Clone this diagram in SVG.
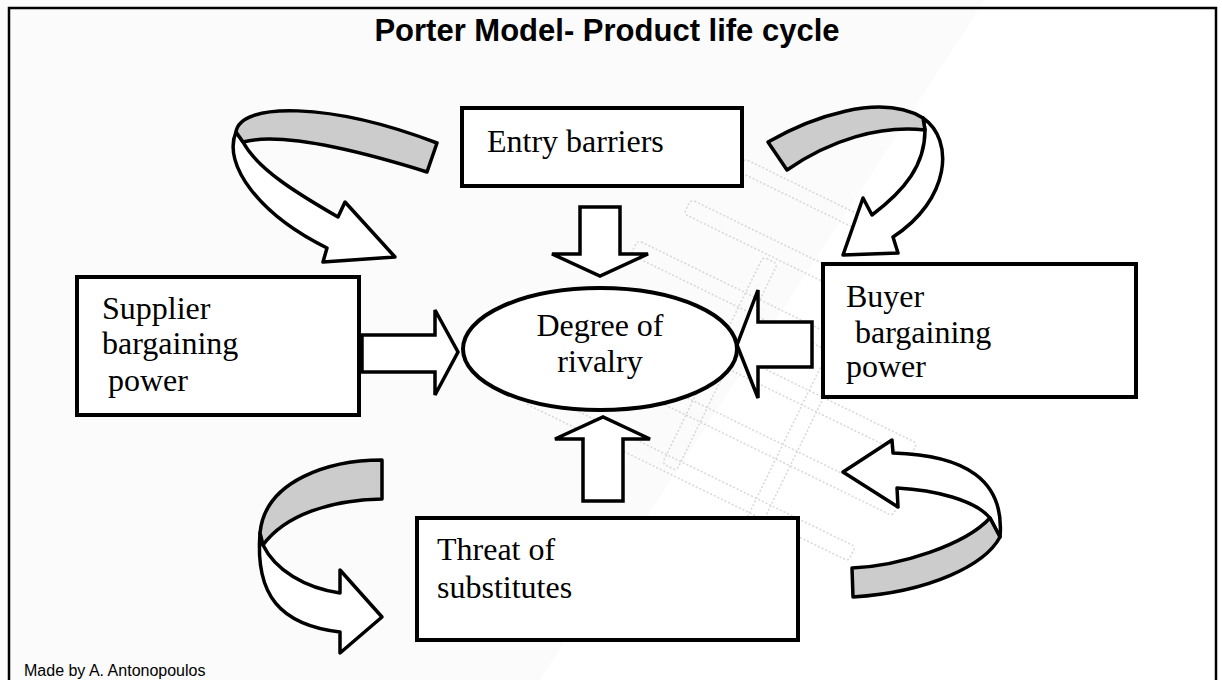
<svg xmlns="http://www.w3.org/2000/svg" width="1222" height="680" viewBox="0 0 1222 680">
<style>
.box{fill:#fff;stroke:#000;stroke-width:4}
.arr{fill:#fff;stroke:#000;stroke-width:3.5;stroke-linejoin:miter}
.band{fill:#cccccc;stroke:#000;stroke-width:3.5;stroke-linejoin:round}
.cw{fill:#fff;stroke:#000;stroke-width:3.5;stroke-linejoin:round}
.lbl{font-family:"Liberation Serif","Times New Roman",serif;font-size:32px;fill:#000}
.wm{fill:none;stroke:#cfcfcf;stroke-width:1.5;stroke-dasharray:2 2}
</style>
<rect x="0" y="0" width="1222" height="680" fill="#fbfbfb"/>
<polygon points="985,0 1222,0 1222,680 540,680" fill="#ffffff"/>
<g id="watermark" opacity="0.8">
<g transform="translate(760,400) rotate(26)">
<rect class="wm" x="-120" y="-210" width="160" height="14" rx="4"/>
<rect class="wm" x="-150" y="-150" width="300" height="16" rx="4"/>
<rect class="wm" x="-180" y="-90" width="330" height="16" rx="4"/>
<rect class="wm" x="-200" y="-30" width="360" height="16" rx="4"/>
<rect class="wm" x="-210" y="30" width="380" height="16" rx="4"/>
<rect class="wm" x="-210" y="90" width="360" height="16" rx="4"/>
<rect class="wm" x="-60" y="-130" width="16" height="230" rx="4"/>
<rect class="wm" x="40" y="-60" width="16" height="200" rx="4"/>
</g>
</g>
<path d="M9,680 L9,8 L1216,8 L1216,680" fill="none" stroke="#000" stroke-width="2.5"/>
<text x="607" y="41" text-anchor="middle" font-family="'Liberation Sans',Arial,sans-serif" font-weight="bold" font-size="31">Porter Model- Product life cycle</text>
<text x="24" y="676" font-family="'Liberation Sans',Arial,sans-serif" font-size="16">Made by A. Antonopoulos</text>

<g id="connectors">
<g id="arrow-entry-down"><path class="arr" d="M580,207 L620,207 L620,254 L648,254 L600,276 L552,254 L580,254 Z"/></g>
<g id="arrow-supplier-right"><path class="arr" d="M362,335 L435,335 L435,310 L458,352 L435,395 L435,372 L362,372 Z"/></g>
<g id="arrow-buyer-left"><path class="arr" d="M812,322 L758,322 L758,290 L737,345 L758,398 L758,367 L812,367 Z"/></g>
<g id="arrow-threat-up"><path class="arr" d="M583,501 L583,439 L555,439 L603,417 L650,439 L623,439 L623,501 Z"/></g>
<g id="curve-top-left">
<path class="cw" d="M236,132 C222,165 260,215 327,248 L323,262 L395,257 L345,202 L338,217 C300,195 258,170 243,142 Z"/>
<path class="band" d="M236,132 C240,102 330,102 437,143 L427,172 C350,148 280,132 243,142 Z"/>
</g>
<g id="curve-top-right">
<path class="cw" d="M923,118 C955,140 950,200 893,237 L898,253 L843,255 L863,198 L872,215 C905,190 925,165 925,130 Z"/>
<path class="band" d="M768,142 C810,118 880,92 923,118 L925,130 C880,125 830,140 787,170 Z"/>
</g>
<g id="curve-bottom-left">
<path class="cw" d="M260,533 C255,595 280,625 340,632 L340,653 L382,617 L340,570 L340,593 C305,588 275,570 263,545 Z"/>
<path class="band" d="M382,460 C330,460 265,480 260,533 L263,545 C285,515 330,500 382,499 Z"/>
</g>
<g id="curve-bottom-right">
<path class="cw" d="M1000,537 C1005,480 965,455 893,453 L892,440 L843,472 L898,507 L897,488 C935,490 975,500 990,518 Z"/>
<path class="band" d="M852,568 C900,566 965,545 990,518 L1000,537 C985,565 930,592 853,597 Z"/>
</g>
</g>

<g id="entry-barriers">
<rect class="box" x="462" y="108" width="280" height="78"/>
<text class="lbl" x="487" y="152">Entry barriers</text>
</g>
<g id="supplier">
<rect class="box" x="77" y="277" width="282" height="138"/>
<text class="lbl" x="102" y="319">Supplier</text>
<text class="lbl" x="102" y="354">bargaining</text>
<text class="lbl" x="108" y="391">power</text>
</g>
<g id="rivalry">
<ellipse cx="600" cy="349" rx="137" ry="61" fill="#fff" stroke="#000" stroke-width="4"/>
<text class="lbl" x="600" y="336" text-anchor="middle">Degree of</text>
<text class="lbl" x="600" y="372" text-anchor="middle">rivalry</text>
</g>
<g id="buyer">
<rect class="box" x="823" y="264" width="313" height="133"/>
<text class="lbl" x="846" y="307">Buyer</text>
<text class="lbl" x="855" y="343">bargaining</text>
<text class="lbl" x="846" y="377">power</text>
</g>
<g id="threat">
<rect class="box" x="417" y="518" width="381" height="122"/>
<text class="lbl" x="437" y="560">Threat of</text>
<text class="lbl" x="437" y="598">substitutes</text>
</g>
</svg>
